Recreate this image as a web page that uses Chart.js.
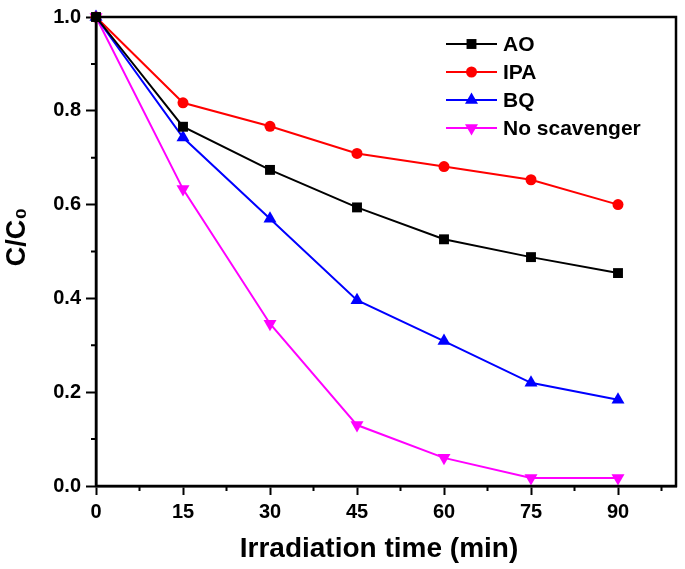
<!DOCTYPE html>
<html>
<head>
<meta charset="utf-8">
<script src="https://cdn.jsdelivr.net/npm/chart.js@4"></script>
<style>
  html, body { margin: 0; padding: 0; background: #fff; }
  #wrap { width: 685px; height: 569px; }
</style>
</head>
<body>
<div id="wrap"><canvas id="myChart" width="685" height="569"></canvas></div>
<script>
(() => {
  'use strict'

  // data
  const times = [0, 15, 30, 45, 60, 75, 90]
  const ao = [1.0, 0.766, 0.674, 0.594, 0.526, 0.488, 0.454]
  const ipa = [1.0, 0.817, 0.767, 0.709, 0.681, 0.653, 0.600]
  const bq = [1.0, 0.743, 0.570, 0.396, 0.309, 0.220, 0.184]
  const noScav = [1.0, 0.633, 0.346, 0.130, 0.060, 0.017, 0.017]
  const xTicks = [0, 15, 30, 45, 60, 75, 90]
  const yTicks = [0, 0.2, 0.4, 0.6, 0.8, 1.0]
  const xTitle = 'Irradiation time (min)'
  const yTitle = 'C/C\u2080'

  const FONT = "Arial, 'Liberation Sans', Helvetica, sans-serif"
  const pts = arr => times.map((t, i) => ({ x: t, y: arr[i] }))

  const series = [
    { label: 'AO', data: ao, color: '#000000', style: 'rect', radius: 7, rotation: 0 },
    { label: 'IPA', data: ipa, color: '#ff0000', style: 'circle', radius: 5.5, rotation: 0 },
    { label: 'BQ', data: bq, color: '#0000ff', style: 'triangle', radius: 7.5, rotation: 0 },
    { label: 'No scavenger', data: noScav, color: '#ff00ff', style: 'triangle', radius: 7.5, rotation: 180 }
  ]

  // frame, minor ticks, axis titles and the in-plot legend
  const extras = {
    id: 'extras',
    afterDraw (chart) {
      const { ctx, chartArea: a, scales } = chart
      ctx.save()
      ctx.strokeStyle = '#000'
      ctx.lineWidth = 2.5
      ctx.strokeRect(a.left, a.top, a.right - a.left, a.bottom - a.top)

      ctx.lineWidth = 2
      ctx.beginPath()
      for (let v = 7.5; v <= 100; v += 15) {
        const px = scales.x.getPixelForValue(v)
        ctx.moveTo(px, a.bottom)
        ctx.lineTo(px, a.bottom + 5)
      }
      for (let v = 0.1; v < 1; v += 0.2) {
        const py = scales.y.getPixelForValue(v)
        ctx.moveTo(a.left, py)
        ctx.lineTo(a.left - 5, py)
      }
      ctx.stroke()

      // axis titles
      ctx.fillStyle = '#000'
      ctx.font = 'bold 28px ' + FONT
      ctx.textAlign = 'center'
      ctx.textBaseline = 'middle'
      ctx.fillText(xTitle, 379, 549)
      ctx.save()
      ctx.translate(18, 237)
      ctx.rotate(-Math.PI / 2)
      ctx.font = 'bold 27px ' + FONT
      ctx.fillText(yTitle, 0, 0)
      ctx.restore()

      // legend
      const lx0 = 446, lx1 = 497, tx = 503
      const rows = [44, 72, 100, 128]
      series.forEach((s, i) => {
        const y = rows[i]
        ctx.strokeStyle = s.color
        ctx.lineWidth = 2
        ctx.beginPath()
        ctx.moveTo(lx0, y)
        ctx.lineTo(lx1, y)
        ctx.stroke()
        ctx.fillStyle = s.color
        Chart.helpers.drawPoint(ctx, {
          pointStyle: s.style, radius: s.radius, rotation: s.rotation, borderWidth: 0
        }, (lx0 + lx1) / 2, y)
        ctx.fillStyle = '#000'
        ctx.font = 'bold 21px ' + FONT
        ctx.textAlign = 'left'
        ctx.textBaseline = 'middle'
        ctx.fillText(s.label, tx, y + 1)
      })
      ctx.restore()
    }
  }

  const ctx = document.getElementById('myChart')
  new Chart(ctx, {
    type: 'line',
    data: {
      datasets: series.map(s => ({
        label: s.label,
        data: pts(s.data),
        borderColor: s.color,
        backgroundColor: s.color,
        borderWidth: 2,
        pointStyle: s.style,
        pointRadius: s.radius,
        pointRotation: s.rotation,
        pointBorderWidth: 0,
        tension: 0,
        clip: false
      }))
    },
    options: {
      responsive: false,
      animation: false,
      layout: { padding: { top: 17, right: 9, left: 0, bottom: 0 } },
      plugins: {
        legend: { display: false },
        tooltip: { enabled: false }
      },
      scales: {
        x: {
          type: 'linear',
          min: 0,
          max: 100,
          afterBuildTicks: s => { s.ticks = xTicks.map(v => ({ value: v })) },
          afterFit: s => { s.height = 83 },
          grid: { drawOnChartArea: false, drawTicks: true, tickLength: 9, tickWidth: 2, tickColor: '#000' },
          border: { display: true, color: '#000', width: 2.5 },
          ticks: { color: '#000', padding: 5, font: { family: FONT, size: 20, weight: 'bold' } }
        },
        y: {
          min: 0,
          max: 1.0,
          afterBuildTicks: s => { s.ticks = yTicks.map(v => ({ value: v })) },
          afterFit: s => { s.width = 96 },
          grid: { drawOnChartArea: false, drawTicks: true, tickLength: 10, tickWidth: 2, tickColor: '#000' },
          border: { display: true, color: '#000', width: 2.5 },
          ticks: {
            color: '#000',
            padding: 5,
            font: { family: FONT, size: 20, weight: 'bold' },
            callback: v => v.toFixed(1)
          }
        }
      }
    },
    plugins: [extras]
  })
})()
</script>
</body>
</html>
